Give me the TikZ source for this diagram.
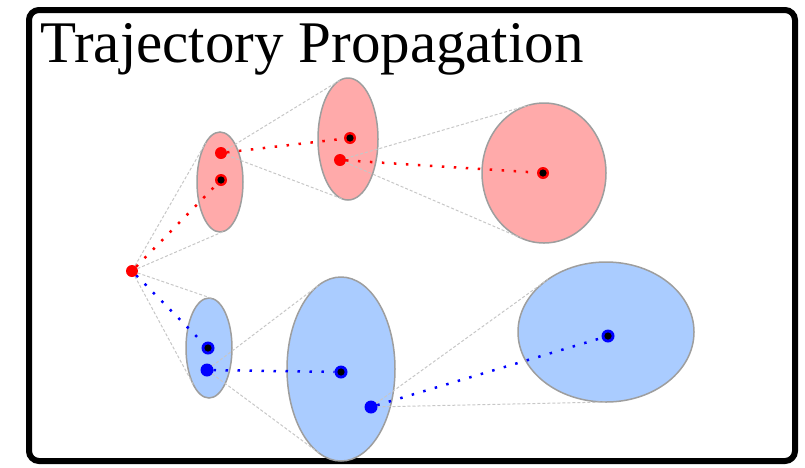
\documentclass[tikz,border=0pt]{standalone}
\usepackage{fontspec}
\setmainfont{Liberation Serif}
\usepackage{tikz}
\usetikzlibrary{shapes.geometric}
\definecolor{redpt}{RGB}{255,0,0}
\definecolor{bluept}{RGB}{0,0,255}
\definecolor{redfill}{RGB}{255,170,170}
\definecolor{bluefill}{RGB}{170,204,255}
\definecolor{rim}{gray}{0.62}
\definecolor{cone}{gray}{0.78}
\tikzset{
  cov/.style={ellipse, draw=rim, line width=1.5pt, inner sep=0pt, outer sep=0pt},
  covr/.style={cov, fill=redfill},
  covb/.style={cov, fill=bluefill},
  pt/.style={circle, inner sep=0pt, outer sep=0pt, minimum size=12pt},
  ptr/.style={pt, fill=redpt},
  ptb/.style={pt, fill=bluept, minimum size=13pt},
  mean/.style={path picture={\fill[black] (path picture bounding box.center) circle (3.6pt);}},
  conel/.style={draw=cone, line width=1pt, dash pattern=on 3pt off 2pt},
  trajr/.style={draw=redpt, line width=2.5pt, dash pattern=on 2.5pt off 9.5pt},
  trajb/.style={draw=bluept, line width=2.5pt, dash pattern=on 2.5pt off 9.5pt},
  frame/.style={draw=black, line width=6pt, rounded corners=10pt},
}

\begin{document}
\begin{tikzpicture}[x=1pt, y=-1pt]
    \useasboundingbox (0,0) rectangle (805,467);
    \draw[frame] (29,10) rectangle (795,461);
    \node[anchor=base west, inner sep=0pt, font=\fontsize{59}{62}\selectfont] (title) at (40,62) {Trajectory Propagation};

    % covariance ellipses
    \node[covr, minimum width=46pt,  minimum height=100pt] (r1) at (220,182) {};
    \node[covr, minimum width=60pt,  minimum height=122pt] (r2) at (348,139) {};
    \node[covr, minimum width=124pt, minimum height=140pt] (r3) at (544,173) {};
    \node[covb, minimum width=46pt,  minimum height=100pt] (b1) at (209,348) {};
    \node[covb, minimum width=108pt, minimum height=184pt] (b2) at (341,369) {};
    \node[covb, minimum width=176pt, minimum height=140pt] (b3) at (606,332) {};

    % samples and means
    \node[ptr] (s)   at (132,271) {};
    \node[ptr, mean] (r1m) at (221,180) {};
    \node[ptr] (r1s) at (221,153) {};
    \node[ptr, mean] (r2m) at (350,138) {};
    \node[ptr] (r2s) at (340,160) {};
    \node[ptr, mean] (r3m) at (543,173) {};
    \node[ptb, mean] (b1m) at (208,348) {};
    \node[ptb] (b1s) at (207,370) {};
    \node[ptb, mean] (b2m) at (341,372) {};
    \node[ptb] (b2s) at (371,407) {};
    \node[ptb, mean] (b3m) at (608,336) {};

    \draw[conel] (s) -- (r1.110.2);
    \draw[conel] (s) -- (r1.275.2);
    \draw[conel] (r1s) -- (r2.98.4);
    \draw[conel] (r1s) -- (r2.264.8);
    \draw[conel] (r2s) -- (r3.102.9);
    \draw[conel] (r2s) -- (r3.251.3);
    \draw[conel] (s) -- (b1.85.9);
    \draw[conel] (s) -- (b1.248.6);
    \draw[conel] (b1s) -- (b2.104.7);
    \draw[conel] (b1s) -- (b2.255.7);
    \draw[conel] (b2s) -- (b3.138.7);
    \draw[conel] (b2s) -- (b3.271.9);

    \draw[trajr] (s) -- (r1m);
    \draw[trajr] (r1s) -- (r2m);
    \draw[trajr] (r2s) -- (r3m);
    \draw[trajb] (s) -- (b1m);
    \draw[trajb] (b1s) -- (b2m);
    \draw[trajb] (b2s) -- (b3m);
  \end{tikzpicture}
\end{document}
